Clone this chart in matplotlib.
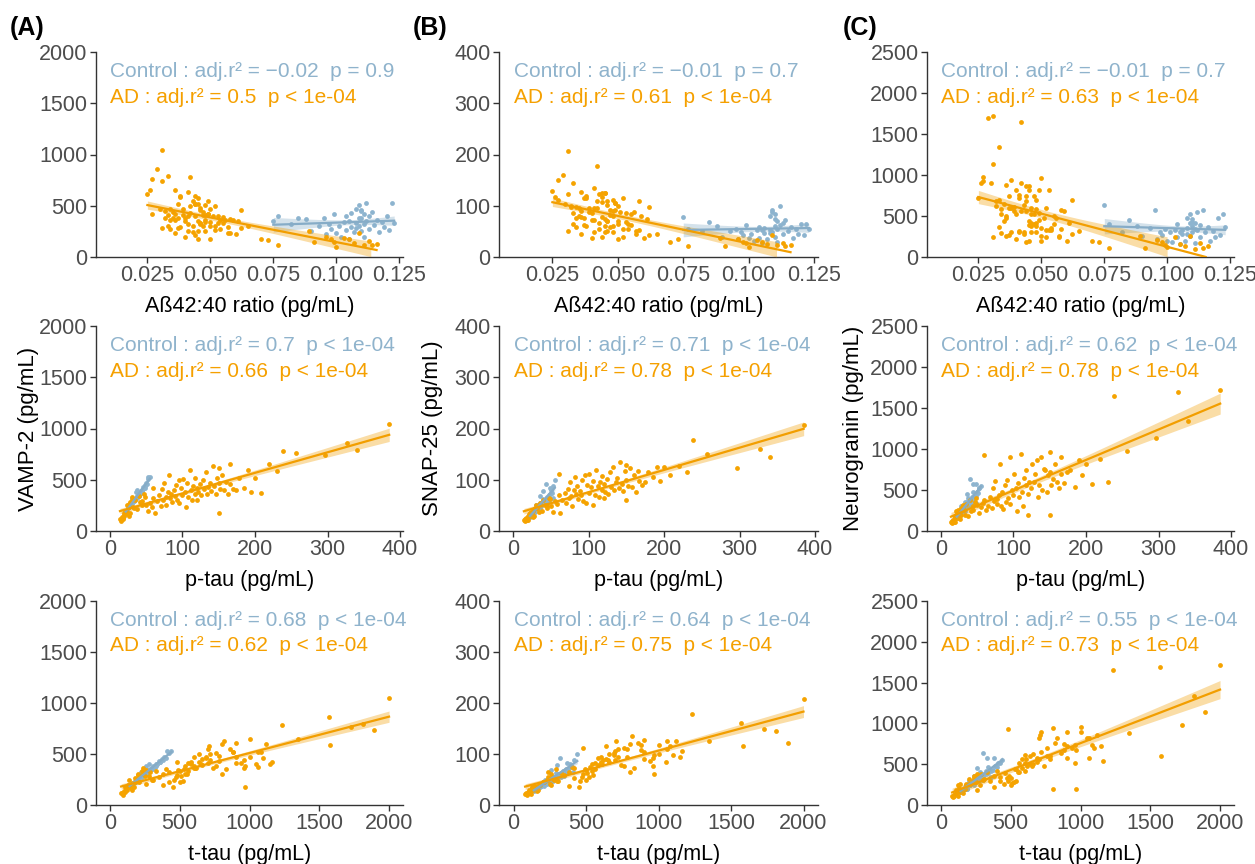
import numpy as np
import matplotlib
matplotlib.use("Agg")
from matplotlib import pyplot as plt

plt.rcParams['font.family'] = ['Liberation Sans', 'DejaVu Sans']

# ---- AD subjects (main cluster, low-tau group, high-tau tail, extra mid points) ----
ad_ratio = [0.036, 0.052, 0.044, 0.031, 0.048, 0.055, 0.040, 0.034, 0.058, 0.046,
            0.050, 0.038, 0.061, 0.043, 0.047, 0.033, 0.039, 0.053, 0.045, 0.035,
            0.049, 0.041, 0.056, 0.037, 0.044, 0.050, 0.032, 0.047, 0.042, 0.054,
            0.036, 0.045, 0.048, 0.040, 0.057, 0.034, 0.046, 0.038, 0.051, 0.043,
            0.035, 0.059, 0.044, 0.049, 0.037, 0.046, 0.040, 0.052, 0.033, 0.045,
            0.048, 0.042, 0.030, 0.055, 0.041, 0.047, 0.036, 0.044, 0.050, 0.039,
            0.043, 0.053, 0.046, 0.034, 0.062, 0.048, 0.041, 0.037, 0.049, 0.044,
            0.032, 0.058, 0.025, 0.026, 0.027, 0.045, 0.050,
            0.065, 0.070, 0.073, 0.077, 0.089, 0.091, 0.096, 0.098, 0.099, 0.100,
            0.103, 0.105, 0.107, 0.109, 0.111, 0.113, 0.114, 0.116,
            0.031, 0.029, 0.033, 0.042, 0.031, 0.027, 0.036, 0.038, 0.045,
            0.052, 0.046, 0.060, 0.048, 0.057, 0.041, 0.062, 0.054]
ad_ptau = [32, 35, 38, 42, 45, 48, 52, 55, 58, 60,
           62, 65, 68, 70, 72, 74, 75, 77, 78, 80,
           82, 83, 85, 86, 88, 90, 91, 93, 95, 96,
           98, 100, 101, 103, 105, 106, 108, 110, 112, 113,
           115, 117, 118, 120, 122, 124, 126, 128, 130, 132,
           134, 136, 138, 140, 142, 144, 146, 148, 150, 152,
           155, 158, 160, 163, 166, 170, 174, 178, 185, 190,
           195, 208, 150, 165, 60, 150, 120,
           30, 28, 25, 18, 24, 20, 22, 19, 26, 16,
           21, 23, 17, 27, 15, 20, 14, 18,
           385, 327, 340, 238, 297, 257, 220, 230, 200,
           26, 30, 34, 40, 44, 50, 28, 47]
ad_ttau = [210, 240, 260, 280, 300, 330, 380, 350, 420, 290,
           450, 480, 400, 520, 560, 380, 600, 500, 460, 540,
           700, 420, 620, 510, 580, 490, 660, 550, 720, 470,
           640, 530, 760, 600, 500, 690, 560, 800, 650, 540,
           720, 610, 880, 580, 760, 690, 830, 640, 940, 710,
           600, 780, 900, 660, 820, 960, 740, 880, 1000, 700,
           860, 1050, 780, 960, 1100, 900, 1150, 1080, 1160, 1120,
           970, 1060, 900, 1000, 480, 970, 800,
           200, 170, 150, 95, 140, 120, 130, 110, 160, 90,
           125, 135, 100, 180, 85, 115, 80, 105,
           2000, 1570, 1810, 1230, 1890, 1730, 1350, 1580, 1060,
           180, 230, 160, 260, 200, 310, 250, 240]
ad_vamp2 = [230, 300, 210, 280, 250, 330, 200, 270, 230, 320,
            180, 290, 350, 240, 410, 300, 470, 330, 250, 380,
            550, 320, 360, 280, 400, 340, 450, 300, 500, 270,
            420, 350, 510, 380, 230, 470, 330, 600, 400, 300,
            440, 360, 520, 420, 380, 460, 350, 500, 410, 580,
            360, 430, 470, 390, 630, 440, 360, 520, 470, 410,
            550, 400, 480, 360, 460, 410, 400, 520, 420, 600,
            380, 370, 610, 650, 420, 180, 300,
            300, 175, 170, 115, 250, 150, 200, 180, 150, 100,
            185, 180, 140, 230, 120, 160, 115, 130,
            1045, 860, 790, 780, 740, 760, 650, 590, 520,
            260, 330, 220, 340, 290, 250, 280, 360]
ad_snap25 = [45, 55, 40, 50, 48, 62, 38, 58, 52, 70,
             35, 60, 75, 55, 82, 65, 95, 68, 48, 80,
             105, 72, 88, 62, 78, 70, 100, 58, 110, 55,
             90, 75, 112, 85, 50, 98, 70, 120, 88, 66,
             95, 80, 108, 92, 76, 102, 72, 115, 86, 125,
             80, 95, 104, 84, 135, 92, 78, 118, 100, 88,
             122, 85, 110, 76, 98, 90, 95, 115, 105, 125,
             98, 110, 128, 118, 112, 60, 65,
             45, 30, 35, 22, 38, 22, 35, 30, 28, 20,
             33, 30, 25, 42, 24, 28, 22, 24,
             207, 160, 145, 178, 122, 150, 126, 115, 125,
             40, 50, 38, 60, 45, 48, 42, 65]
ad_ngrn = [260, 330, 180, 240, 310, 400, 220, 290, 340, 380,
           260, 300, 420, 280, 520, 360, 610, 330, 390, 440,
           820, 300, 480, 270, 560, 350, 620, 400, 900, 330,
           500, 440, 700, 520, 250, 580, 410, 940, 480, 300,
           650, 560, 750, 450, 600, 530, 820, 600, 700, 860,
           420, 560, 900, 500, 760, 740, 480, 680, 960, 560,
           640, 820, 600, 520, 700, 580, 720, 740, 540, 860,
           680, 570, 720, 900, 930, 200, 200,
           320, 200, 180, 110, 260, 110, 210, 180, 150, 120,
           240, 160, 130, 260, 100, 170, 110, 140,
           1720, 1690, 1340, 1650, 1140, 980, 880, 600, 820,
           240, 300, 200, 380, 260, 320, 280, 350]

# ---- Control subjects ----
ct_ratio = [0.075, 0.077, 0.082, 0.085, 0.088, 0.090, 0.093, 0.095, 0.096, 0.097,
            0.098, 0.099, 0.100, 0.101, 0.102, 0.103, 0.104, 0.104, 0.105, 0.106,
            0.106, 0.107, 0.108, 0.108, 0.109, 0.109, 0.110, 0.110, 0.110, 0.111,
            0.111, 0.111, 0.112, 0.112, 0.113, 0.113, 0.114, 0.115, 0.116, 0.117,
            0.118, 0.119, 0.120, 0.121, 0.122, 0.123, 0.109, 0.110, 0.108, 0.105]
ct_ptau = [40, 38, 30, 36, 42, 28, 33, 45, 25, 37,
           31, 48, 27, 35, 24, 40, 29, 44, 22, 34,
           46, 26, 38, 50, 32, 53, 42, 28, 51, 36,
           47, 23, 55, 39, 44, 30, 49, 35, 41, 27,
           37, 33, 45, 29, 52, 38, 43, 48, 31, 39]
ct_ttau = [300, 280, 220, 260, 320, 200, 240, 330, 170, 270,
           230, 360, 190, 250, 160, 290, 210, 330, 140, 250,
           350, 180, 280, 390, 230, 420, 310, 200, 400, 260,
           360, 150, 440, 290, 340, 210, 380, 260, 300, 190,
           270, 240, 340, 200, 410, 280, 320, 370, 220, 300]
ct_vamp2 = [350, 400, 320, 380, 370, 250, 300, 380, 220, 320,
            270, 420, 230, 300, 200, 340, 260, 400, 180, 290,
            430, 240, 330, 470, 300, 510, 380, 250, 460, 320,
            420, 200, 530, 350, 400, 270, 440, 310, 360, 240,
            340, 290, 400, 260, 530, 330, 380, 450, 280, 350]
ct_snap25 = [78, 55, 50, 68, 60, 40, 50, 55, 35, 48,
             42, 62, 38, 45, 32, 52, 38, 58, 28, 46,
             56, 36, 52, 80, 48, 88, 60, 40, 75, 55,
             70, 30, 100, 62, 66, 44, 72, 50, 58, 38,
             54, 44, 64, 42, 65, 55, 92, 83, 46, 52]
ct_ngrn = [640, 400, 300, 450, 380, 260, 350, 570, 220, 300,
           270, 340, 200, 310, 180, 330, 240, 400, 160, 280,
           330, 190, 350, 480, 260, 520, 380, 300, 460, 340,
           420, 170, 550, 330, 390, 250, 570, 300, 360, 200,
           320, 240, 470, 270, 520, 370, 420, 430, 280, 310]

ratio_ticks = [0.025, 0.050, 0.075, 0.100, 0.125]
ratio_labels = ["0.025", "0.050", "0.075", "0.100", "0.125"]

annotations = [
    [("Control : adj.r² = −0.02  p = 0.9", "AD : adj.r² = 0.5  p < 1e-04"),
     ("Control : adj.r² = −0.01  p = 0.7", "AD : adj.r² = 0.61  p < 1e-04"),
     ("Control : adj.r² = −0.01  p = 0.7", "AD : adj.r² = 0.63  p < 1e-04")],
    [("Control : adj.r² = 0.7  p < 1e-04", "AD : adj.r² = 0.66  p < 1e-04"),
     ("Control : adj.r² = 0.71  p < 1e-04", "AD : adj.r² = 0.78  p < 1e-04"),
     ("Control : adj.r² = 0.62  p < 1e-04", "AD : adj.r² = 0.78  p < 1e-04")],
    [("Control : adj.r² = 0.68  p < 1e-04", "AD : adj.r² = 0.62  p < 1e-04"),
     ("Control : adj.r² = 0.64  p < 1e-04", "AD : adj.r² = 0.75  p < 1e-04"),
     ("Control : adj.r² = 0.55  p < 1e-04", "AD : adj.r² = 0.73  p < 1e-04")],
]

CT_PT = '#8db4cf'
CT_LN = '#86acc7'
AD_PT = '#f5a300'
AD_LN = '#f29e00'
TXT_CT = '#8fb3cc'
TXT_AD = '#f5a000'


def fit_line(ax, x, y, color, ylim):
    x = np.asarray(x, float)
    y = np.asarray(y, float)
    n = len(x)
    b1, b0 = np.polyfit(x, y, 1)
    resid = y - (b0 + b1 * x)
    s = np.sqrt(np.sum(resid ** 2) / (n - 2))
    sxx = np.sum((x - x.mean()) ** 2)
    xs = np.linspace(x.min(), x.max(), 120)
    ys = b0 + b1 * xs
    se = s * np.sqrt(1.0 / n + (xs - x.mean()) ** 2 / sxx)
    lo, hi = ys - 1.98 * se, ys + 1.98 * se
    ok = (lo >= ylim[0]) & (hi <= ylim[1])
    ax.fill_between(xs[ok], lo[ok], hi[ok], color=color, alpha=0.35, lw=0, zorder=3)
    yl = np.where((ys >= ylim[0]) & (ys <= ylim[1]), ys, np.nan)
    ax.plot(xs, yl, color=color, lw=1.6, zorder=4)


fig = plt.figure(figsize=(12.55, 8.64), dpi=100)

lefts = [96, 499, 927]
widths = [307, 319, 307]
tops = [52, 326, 601]
heights = [205, 205, 204]
ylabel_x = [-0.186, -0.175, -0.205]

xs_ad = [ad_ratio, ad_ptau, ad_ttau]
xs_ct = [ct_ratio, ct_ptau, ct_ttau]
ys_ad = [ad_vamp2, ad_snap25, ad_ngrn]
ys_ct = [ct_vamp2, ct_snap25, ct_ngrn]
xlims = [(0.0046, 0.1265), (-19, 404), (-100, 2100)]
xticks = [ratio_ticks, [0, 100, 200, 300, 400], [0, 500, 1000, 1500, 2000]]
xlabels = ["Aß42:40 ratio (pg/mL)", "p-tau (pg/mL)", "t-tau (pg/mL)"]
ylims = [(0, 2000), (0, 400), (0, 2500)]
yticks = [[0, 500, 1000, 1500, 2000], [0, 100, 200, 300, 400],
          [0, 500, 1000, 1500, 2000, 2500]]
ylabels = ["VAMP-2 (pg/mL)", "SNAP-25 (pg/mL)", "Neurogranin (pg/mL)"]

for r in range(3):
    for c in range(3):
        ax = fig.add_axes([lefts[c] / 1255, 1 - (tops[r] + heights[r]) / 864,
                           widths[c] / 1255, heights[r] / 864])
        ax.scatter(xs_ct[r], ys_ct[c], s=12, color=CT_PT, lw=0, zorder=2)
        ax.scatter(xs_ad[r], ys_ad[c], s=12, color=AD_PT, lw=0, zorder=2)
        fit_line(ax, xs_ct[r], ys_ct[c], CT_LN, ylims[c])
        fit_line(ax, xs_ad[r], ys_ad[c], AD_LN, ylims[c])
        ax.set_xlim(xlims[r])
        ax.set_ylim(ylims[c])
        ax.set_xticks(xticks[r])
        if r == 0:
            ax.set_xticklabels(ratio_labels)
        ax.set_yticks(yticks[c])
        for sp in ['top', 'right']:
            ax.spines[sp].set_visible(False)
        for sp in ['left', 'bottom']:
            ax.spines[sp].set_color('#333333')
            ax.spines[sp].set_linewidth(1.0)
        ax.tick_params(length=4, width=1, color='#333333', labelcolor='#4d4d4d',
                       labelsize=15.5, pad=2)
        ax.set_xlabel(xlabels[r], fontsize=15.5, labelpad=7)
        if r == 1:
            ax.set_ylabel(ylabels[c], fontsize=16)
            ax.yaxis.set_label_coords(ylabel_x[c], 0.5)
        t1, t2 = annotations[r][c]
        ax.text(0.046, 0.905, t1, transform=ax.transAxes, fontsize=15,
                color=TXT_CT, va='center', ha='left')
        ax.text(0.046, 0.78, t2, transform=ax.transAxes, fontsize=15,
                color=TXT_AD, va='center', ha='left')

for lab, x in zip(["(A)", "(B)", "(C)"], [10, 413, 843]):
    fig.text(x / 1255, 1 - 28 / 864, lab, fontsize=18, fontweight='bold',
             va='center', ha='left')

fig.savefig("out.png", dpi=100)
